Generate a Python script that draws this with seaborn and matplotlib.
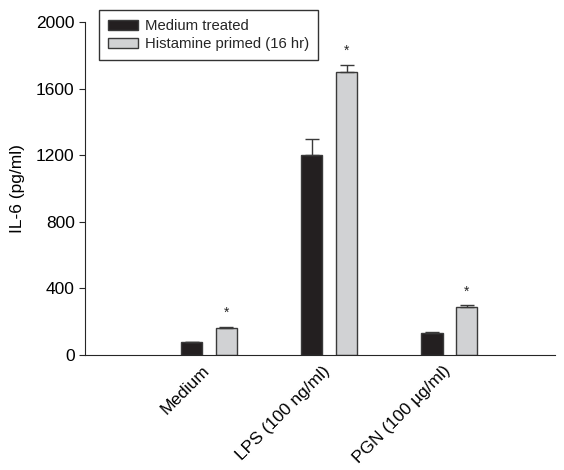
import pandas as pd
import matplotlib
matplotlib.use("Agg")
import matplotlib.pyplot as plt
import matplotlib.transforms as mtransforms
import seaborn as sns

# Valores
categorias = ["Medium", "LPS (100 ng/ml)", "PGN (100 µg/ml)"]
grupos = ["Medium treated", "Histamine primed (16 hr)"]
medium_treated = [75, 1200, 132]
histamine_primed = [160, 1700, 285]
erro_medium = [3, 100, 5]
erro_histamine = [10, 40, 12]
significativo = [True, True, True]

df = pd.DataFrame({
    "Condicao": categorias * 2,
    "Grupo": [grupos[0]] * 3 + [grupos[1]] * 3,
    "IL6": medium_treated + histamine_primed,
    "Erro": erro_medium + erro_histamine,
})

sns.set_style("ticks")
plt.rcParams["font.family"] = ["Liberation Sans", "DejaVu Sans"]

fig = plt.figure(figsize=(5.64, 4.7), dpi=100)
ax = fig.add_axes([0.151, 0.245, 0.833, 0.708])

cores = {grupos[0]: "#231f20", grupos[1]: "#d1d2d4"}
sns.barplot(data=df, x="Condicao", y="IL6", hue="Grupo", palette=cores,
            width=0.58, gap=0.38, errorbar=None, edgecolor="#3a3a3a",
            linewidth=1.0, saturation=1, ax=ax)

# Barras de erro (só para cima) e asteriscos
barras = [p for p in ax.patches if p.get_height() > 0][:6]
for p, err in zip(barras, df["Erro"]):
    xc = p.get_x() + p.get_width() / 2
    ax.errorbar(xc, p.get_height(), yerr=[[0], [err]], fmt="none",
                ecolor="#3a3a3a", elinewidth=1.0, capsize=5, capthick=1.0)
for i, p in enumerate(barras[3:]):
    if significativo[i]:
        xc = p.get_x() + p.get_width() / 2
        ax.text(xc, p.get_height() + erro_histamine[i] + 85, "*",
                ha="center", va="center", fontsize=10)

ax.set_xlim(-1.03, 2.88)
ax.set_ylim(0, 2000)
ax.set_yticks([0, 400, 800, 1200, 1600, 2000])
ax.tick_params(axis="y", labelsize=12.5, direction="out", length=4,
               labelcolor="black")
ax.tick_params(axis="x", length=0, labelsize=12.5, pad=6, labelcolor="black")
deslocamento = mtransforms.ScaledTranslation(-5 / 72, 0, fig.dpi_scale_trans)
for lbl in ax.get_xticklabels():
    lbl.set_rotation(45)
    lbl.set_ha("right")
    lbl.set_rotation_mode("anchor")
    lbl.set_transform(lbl.get_transform() + deslocamento)
ax.set_xlabel("")
ax.set_ylabel("IL-6 (pg/ml)", fontsize=12.5, labelpad=8, color="black")
sns.despine(ax=ax)

leg = ax.legend(loc="upper left", bbox_to_anchor=(99 / 564, 460 / 470),
                bbox_transform=fig.transFigure, fontsize=10.7,
                frameon=True, fancybox=False, edgecolor="black",
                handlelength=2.0, handleheight=0.7, borderpad=0.6,
                borderaxespad=0, labelspacing=0.3, handletextpad=0.5)
leg.get_frame().set_linewidth(1.0)

fig.savefig("out.png", dpi=100)
